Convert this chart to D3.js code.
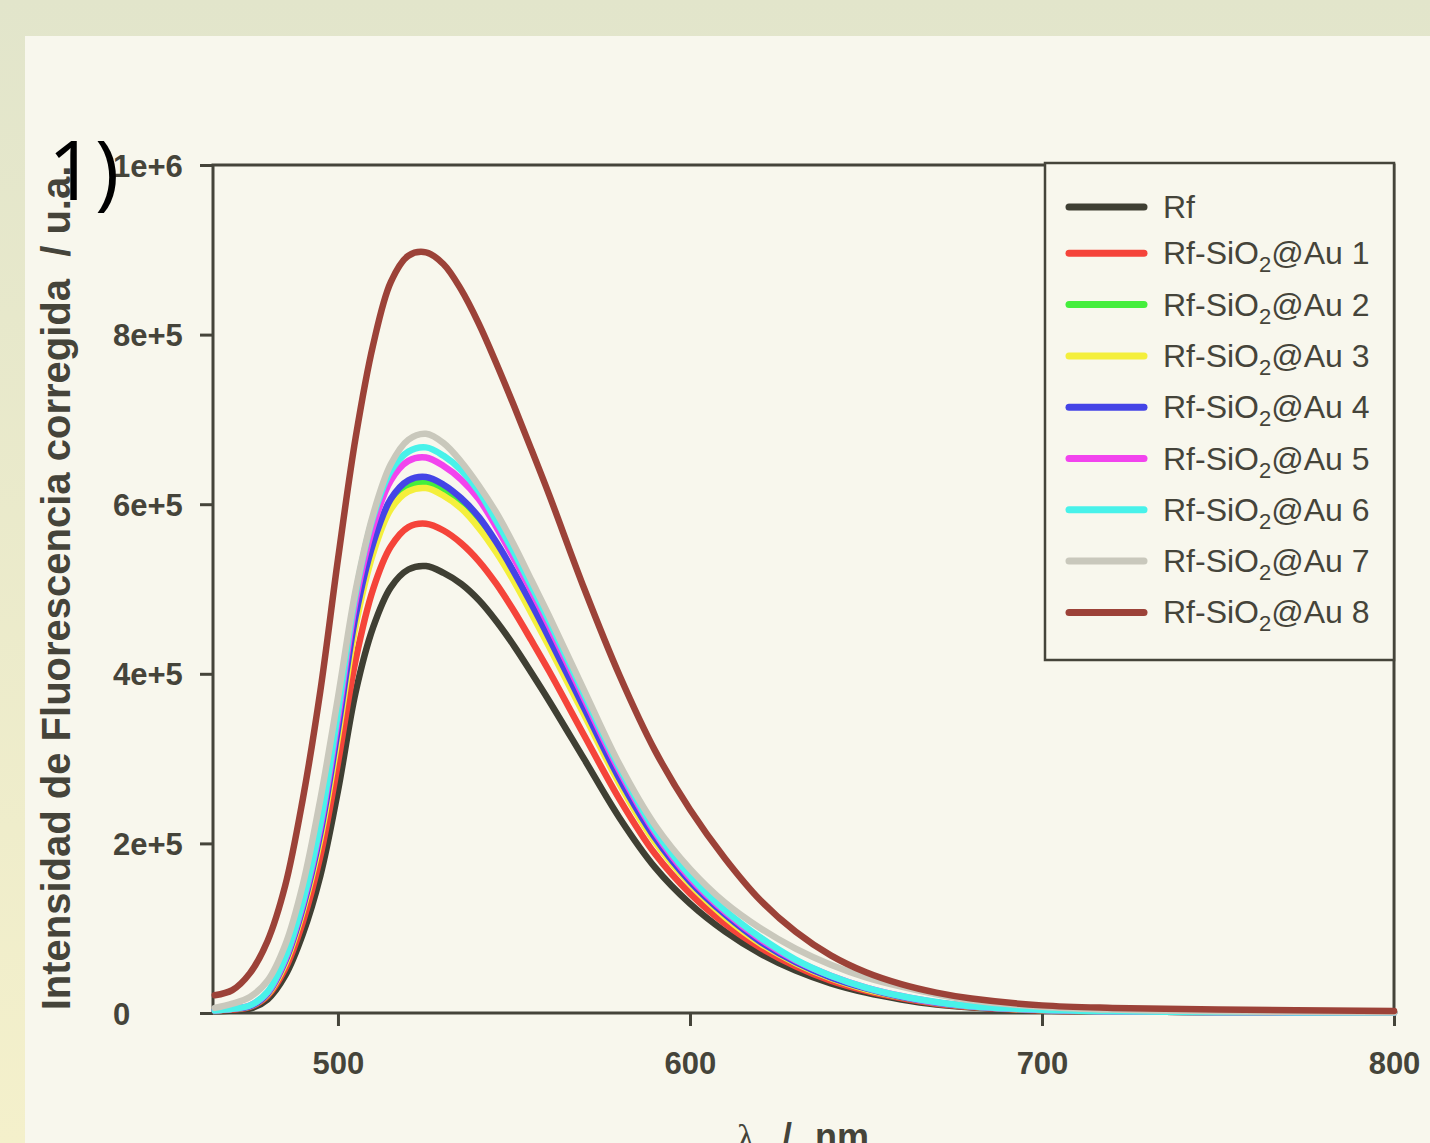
<!DOCTYPE html>
<html>
<head>
<meta charset="utf-8">
<script src="https://cdn.jsdelivr.net/npm/d3@7"></script>
<style>
  html, body { margin: 0; padding: 0; background: #eceacd; }
  svg { display: block; }
</style>
</head>
<body>
<svg id="chart" width="1430" height="1143"></svg>
<script>
// ---------- DATA (intensity in units of 1e5 a.u.) ----------
const wavelengths = [465,470,475,480,485,490,495,500,505,510,515,520,525,530,535,540,545,550,555,560,570,580,590,600,610,620,630,640,650,660,670,680,700,720,750,800];

const seriesNames = ["Rf","Rf-SiO₂@Au 1","Rf-SiO₂@Au 2","Rf-SiO₂@Au 3","Rf-SiO₂@Au 4","Rf-SiO₂@Au 5","Rf-SiO₂@Au 6","Rf-SiO₂@Au 7","Rf-SiO₂@Au 8"];
const seriesColors = ["#3f3f33","#f5443a","#44ee3c","#f4ef3c","#4444e6","#f244ee","#48f2ea","#c9c8bc","#9c4238"];

const rf  = [0.02,0.03,0.05,0.16,0.44,0.93,1.62,2.62,3.78,4.55,5.02,5.23,5.27,5.19,5.06,4.87,4.62,4.33,4.01,3.68,2.99,2.30,1.72,1.29,0.96,0.70,0.50,0.35,0.24,0.16,0.10,0.065,0.03,0.02,0.01,0.005];
const au1 = [0.03,0.04,0.07,0.20,0.52,1.07,1.85,2.95,4.16,5.00,5.50,5.73,5.77,5.69,5.54,5.33,5.06,4.74,4.39,4.03,3.27,2.52,1.88,1.41,1.05,0.77,0.55,0.38,0.26,0.175,0.11,0.07,0.03,0.02,0.01,0.005];
const au2 = [0.03,0.05,0.08,0.23,0.60,1.22,2.08,3.30,4.62,5.48,6.00,6.22,6.26,6.17,6.01,5.79,5.49,5.14,4.76,4.37,3.55,2.73,2.04,1.53,1.14,0.83,0.59,0.42,0.285,0.19,0.12,0.077,0.036,0.02,0.01,0.005];
const au3 = [0.03,0.05,0.08,0.22,0.58,1.20,2.05,3.25,4.56,5.42,5.94,6.15,6.19,6.10,5.95,5.72,5.43,5.09,4.71,4.32,3.51,2.70,2.02,1.52,1.13,0.82,0.59,0.41,0.28,0.19,0.12,0.076,0.035,0.02,0.01,0.005];
const au4 = [0.03,0.05,0.08,0.23,0.61,1.24,2.12,3.35,4.68,5.54,6.06,6.28,6.32,6.23,6.07,5.85,5.55,5.20,4.82,4.42,3.59,2.76,2.07,1.55,1.16,0.84,0.60,0.42,0.29,0.19,0.12,0.078,0.036,0.02,0.01,0.005];
const au5 = [0.03,0.05,0.09,0.24,0.63,1.28,2.19,3.47,4.85,5.74,6.28,6.51,6.55,6.45,6.29,6.06,5.73,5.36,4.97,4.56,3.70,2.85,2.13,1.59,1.19,0.87,0.62,0.44,0.30,0.20,0.125,0.08,0.037,0.02,0.01,0.005];
const au6 = [0.03,0.05,0.09,0.25,0.65,1.31,2.24,3.55,4.94,5.85,6.39,6.62,6.67,6.57,6.40,6.15,5.80,5.43,5.03,4.62,3.75,2.89,2.16,1.62,1.21,0.89,0.63,0.44,0.30,0.20,0.13,0.08,0.038,0.02,0.01,0.005];
const au7 = [0.06,0.11,0.19,0.38,0.80,1.51,2.52,3.72,4.98,5.88,6.47,6.76,6.83,6.72,6.50,6.22,5.90,5.52,5.10,4.68,3.80,2.93,2.22,1.70,1.30,1.00,0.76,0.57,0.42,0.31,0.22,0.15,0.075,0.04,0.02,0.01];
const au8 = [0.21,0.27,0.47,0.85,1.50,2.52,3.80,5.35,6.78,7.88,8.62,8.93,8.97,8.83,8.53,8.13,7.66,7.16,6.64,6.11,5.00,3.98,3.10,2.40,1.82,1.33,0.96,0.68,0.48,0.34,0.24,0.17,0.09,0.06,0.04,0.025];

const xTickValues = [500,600,700,800];
const yTickValues = [0,2,4,6,8,10];
const yTickLabels = ["0","2e+5","4e+5","6e+5","8e+5","1e+6"];

const xLabel = "λ / nm";
const yLabel = "Intensidad de Fluorescencia corregida  / u.a.";
const panelTag = "1)";

// ---------- DRAW ----------
const allSeries = [rf, au1, au2, au3, au4, au5, au6, au7, au8];
const svg = d3.select("#chart");
const ink = "#45443a";
const panelFill = "#f8f7ed";

const defs = svg.append("defs");
const g1 = defs.append("linearGradient").attr("id","outer").attr("x1",0).attr("y1",0).attr("x2",0).attr("y2",1);
g1.append("stop").attr("offset","0%").attr("stop-color","#e2e5cb");
g1.append("stop").attr("offset","100%").attr("stop-color","#f4f0cb");
svg.append("rect").attr("width",1430).attr("height",1143).attr("fill","url(#outer)");
svg.append("rect").attr("x",25).attr("y",36).attr("width",1405).attr("height",1107).attr("fill",panelFill);

const pLeft = 213, pRight = 1394, pTop = 165, pBottom = 1013;
const x = d3.scaleLinear().domain([464.5, 800]).range([pLeft, pRight]);
const y = d3.scaleLinear().domain([0, 10]).range([pBottom, pTop]);

// frame
svg.append("rect").attr("x",pLeft).attr("y",pTop).attr("width",pRight-pLeft).attr("height",pBottom-pTop)
  .attr("fill","none").attr("stroke",ink).attr("stroke-width",3);

// axes
const xAxis = svg.append("g").attr("transform",`translate(0,${pBottom})`)
  .call(d3.axisBottom(x).tickValues(xTickValues).tickSize(13).tickSizeOuter(0).tickPadding(26).tickFormat(d3.format("d")));
const yAxis = svg.append("g").attr("transform",`translate(${pLeft},0)`)
  .call(d3.axisLeft(y).tickValues(yTickValues).tickSize(13).tickSizeOuter(0).tickFormat((d,i)=>yTickLabels[i]));
[xAxis, yAxis].forEach(a => {
  a.select(".domain").remove();
  a.selectAll(".tick line").attr("stroke",ink).attr("stroke-width",3);
  a.selectAll(".tick text").attr("fill",ink)
    .style("font-family","'Liberation Sans', Arial, sans-serif")
    .style("font-weight","bold").style("font-size","31px");
});
yAxis.selectAll(".tick text").attr("text-anchor","start").attr("x",-100).attr("dy","0.36em");

// curves
const line = d3.line().x((d,i)=>x(wavelengths[i])).y(d=>y(d)).curve(d3.curveCatmullRom.alpha(0.5));
svg.append("g").selectAll("path").data(allSeries).join("path")
  .attr("d", d=>line(d))
  .attr("fill","none")
  .attr("stroke",(d,i)=>seriesColors[i])
  .attr("stroke-width",6.5)
  .attr("stroke-linejoin","round")
  .attr("stroke-linecap","round");

// legend
const lg = svg.append("g");
lg.append("rect").attr("x",1045).attr("y",163).attr("width",349).attr("height",497)
  .attr("fill",panelFill).attr("stroke",ink).attr("stroke-width",2.5);
const rowY = i => i === 0 ? 207 : 253.3 + (i-1)*51.3;
seriesNames.forEach((name,i) => {
  lg.append("line").attr("x1",1069).attr("x2",1144).attr("y1",rowY(i)).attr("y2",rowY(i))
    .attr("stroke",seriesColors[i]).attr("stroke-width",7).attr("stroke-linecap","round");
  const t = lg.append("text").attr("x",1163).attr("y",rowY(i)+11)
    .attr("fill",ink).style("font-family","'Liberation Sans', Arial, sans-serif").style("font-size","32px");
  const parts = name.split("₂");
  t.append("tspan").text(parts[0]);
  if (parts.length > 1) {
    t.append("tspan").attr("dy",8).style("font-size","22px").text("2");
    t.append("tspan").attr("dy",-8).text(parts[1]);
  }
});

// y label
svg.append("text").attr("transform","translate(70,588) rotate(-90)")
  .attr("text-anchor","middle").attr("fill",ink)
  .style("font-family","'Liberation Sans', Arial, sans-serif").style("font-weight","bold").style("font-size","40px")
  .style("white-space","pre")
  .text(yLabel);

// x label
const xl = svg.append("text").attr("y",1149).attr("fill",ink)
  .style("font-family","'Liberation Sans', Arial, sans-serif").style("font-weight","bold").style("font-size","36px");
const xParts = xLabel.split(" ");
xl.append("tspan").attr("x",737).style("font-family","'Liberation Serif', serif").style("font-weight","normal").text(xParts[0]);
xl.append("tspan").attr("x",782).text(xParts[1]);
xl.append("tspan").attr("x",815).text(xParts[2]);

// panel tag
svg.append("text").attr("x",48).attr("y",200).attr("fill","#000")
  .style("font-family","'Open Sans', sans-serif").style("font-size","82px")
  .text(panelTag);
</script>
</body>
</html>
